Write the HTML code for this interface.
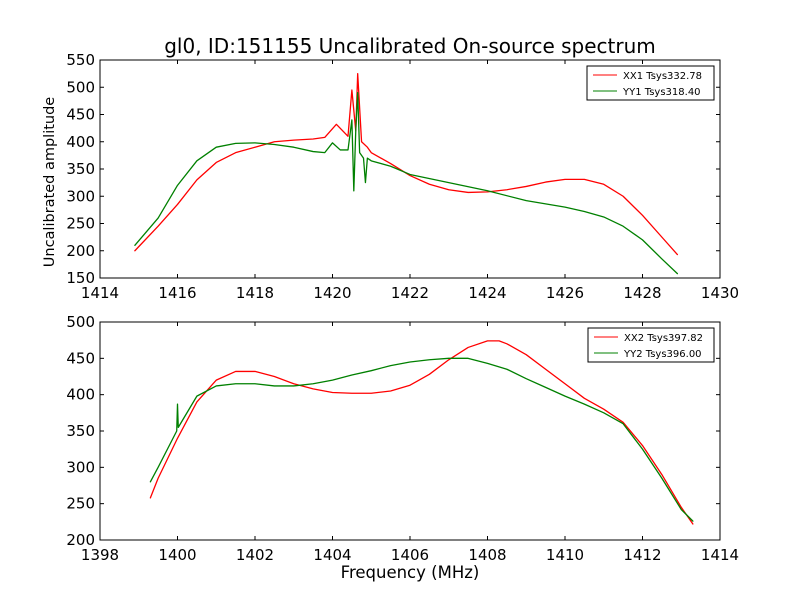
<!DOCTYPE html>
<html><head><meta charset="utf-8"><style>
body{margin:0;background:#fff}
svg{font-family:"DejaVu Sans","Liberation Sans",sans-serif}
</style></head><body>
<svg id="c" width="800" height="600" viewBox="0 0 800 600">
<rect width="800" height="600" fill="#fff"/>
<text x="410" y="53" font-size="20" text-anchor="middle">gl0, ID:151155 Uncalibrated On-source spectrum</text>
<text x="54" y="182" font-size="14.5" text-anchor="middle" transform="rotate(-90 54 182)">Uncalibrated amplitude</text>
<text x="410" y="578" font-size="16.5" text-anchor="middle">Frequency (MHz)</text>
</svg>
<script>
const topXX1X=[1414.9,1415.5,1416,1416.5,1417,1417.5,1418,1418.5,1419,1419.5,1419.8,1420.1,1420.4,1420.5,1420.6,1420.65,1420.75,1420.9,1421,1421.5,1422,1422.5,1423,1423.5,1424,1424.5,1425,1425.5,1426,1426.5,1427,1427.5,1428,1428.5,1428.9];
const topXX1Y=[200,245,285,330,362,380,390,400,403,405,408,432,410,495,420,525,400,390,380,360,338,322,312,307,308,312,318,326,331,331,322,300,265,225,193];
const topYY1X=[1414.9,1415.5,1416,1416.5,1417,1417.5,1418,1418.5,1419,1419.5,1419.8,1420,1420.2,1420.4,1420.5,1420.55,1420.6,1420.65,1420.7,1420.8,1420.85,1420.9,1421,1421.5,1422,1423,1424,1425,1426,1426.5,1427,1427.5,1428,1428.5,1428.9];
const topYY1Y=[210,260,320,365,390,397,398,395,390,382,380,398,385,385,440,310,420,490,380,370,325,370,365,355,340,325,310,292,280,272,262,245,220,185,158];
const botXX2X=[1399.3,1399.5,1400,1400.5,1401,1401.5,1402,1402.5,1403,1403.5,1404,1404.5,1405,1405.5,1406,1406.5,1407,1407.5,1408,1408.3,1408.5,1409,1409.5,1410,1410.5,1411,1411.5,1412,1412.5,1413,1413.3];
const botXX2Y=[258,285,340,390,420,432,432,425,415,408,403,402,402,405,413,428,448,465,474,474,470,455,435,415,395,380,362,330,290,245,222];
const botYY2X=[1399.3,1399.5,1399.98,1400,1400.02,1400.5,1401,1401.5,1402,1402.5,1403,1403.5,1404,1404.5,1405,1405.5,1406,1406.5,1407,1407.5,1408,1408.5,1409,1409.5,1410,1410.5,1411,1411.5,1412,1412.5,1413,1413.3];
const botYY2Y=[280,300,350,387,355,398,412,415,415,412,412,415,420,427,433,440,445,448,450,450,443,435,422,410,398,387,375,360,325,285,242,226];
const topXTicks=[1414,1416,1418,1420,1422,1424,1426,1428,1430];
const topYTicks=[150,200,250,300,350,400,450,500,550];
const botXTicks=[1398,1400,1402,1404,1406,1408,1410,1412,1414];
const botYTicks=[200,250,300,350,400,450,500];
const NS="http://www.w3.org/2000/svg";
const svg=document.getElementById('c');
function mk(t,a,p){const e=document.createElementNS(NS,t);for(const k in a)e.setAttribute(k,a[k]);(p||svg).appendChild(e);return e;}
function panel(name,top,xmin,xmax,ymin,ymax,xt,yt,series,legend){
  const L=100,R=720,T=top,B=top+218;
  const sx=v=>L+(v-xmin)/(xmax-xmin)*(R-L), sy=v=>B-(v-ymin)/(ymax-ymin)*(B-T);
  const g=mk('g',{});
  
  
  xt.forEach(v=>{const x=sx(v);
    mk('line',{x1:x,x2:x,y1:B,y2:B-4,stroke:'#000'},g);mk('line',{x1:x,x2:x,y1:T,y2:T+4,stroke:'#000'},g);
    const t=mk('text',{x:x,y:B+20,'font-size':15,'text-anchor':'middle'},g);t.textContent=v;
    
    });
  yt.forEach(v=>{const y=sy(v);
    mk('line',{x1:L,x2:L+4,y1:y,y2:y,stroke:'#000'},g);mk('line',{x1:R,x2:R-4,y1:y,y2:y,stroke:'#000'},g);
    const t=mk('text',{x:L-5,y:y+5,'font-size':15,'text-anchor':'end'},g);t.textContent=v;
    
    });
  series.forEach(s=>{
    const p=mk('polyline',{points:s.x.map((v,i)=>sx(v)+','+sy(s.y[i])).join(' '),fill:'none',stroke:s.c,'stroke-width':1.3,'stroke-linejoin':'round','stroke-linecap':'round'},g);
    
    });
  mk('rect',{x:L,y:T,width:R-L,height:B-T,fill:'none',stroke:'#000'},g);
  const lg=mk('g',{},g);
  
  
  mk('rect',{x:legend.x,y:T+6,width:legend.w,height:34,fill:'#fff',stroke:'#000'},lg);
  series.forEach((s,i)=>{const y=T+15+i*16;
    mk('line',{x1:legend.x+6,x2:legend.x+30,y1:y,y2:y,stroke:s.c},lg);
    const t=mk('text',{x:legend.x+36,y:y+4,'font-size':10},lg);t.textContent=s.l;
    
    });
}
panel('top-panel',60,1414,1430,150,550,topXTicks,topYTicks,[
 {x:topXX1X,y:topXX1Y,c:'#ff0000',n:'xx1-line',l:'XX1 Tsys332.78'},
 {x:topYY1X,y:topYY1Y,c:'#008000',n:'yy1-line',l:'YY1 Tsys318.40'}],{x:587,w:127});
panel('bottom-panel',322,1398,1414,200,500,botXTicks,botYTicks,[
 {x:botXX2X,y:botXX2Y,c:'#ff0000',n:'xx2-line',l:'XX2 Tsys397.82'},
 {x:botYY2X,y:botYY2Y,c:'#008000',n:'yy2-line',l:'YY2 Tsys396.00'}],{x:588,w:126});
</script>
</body></html>
